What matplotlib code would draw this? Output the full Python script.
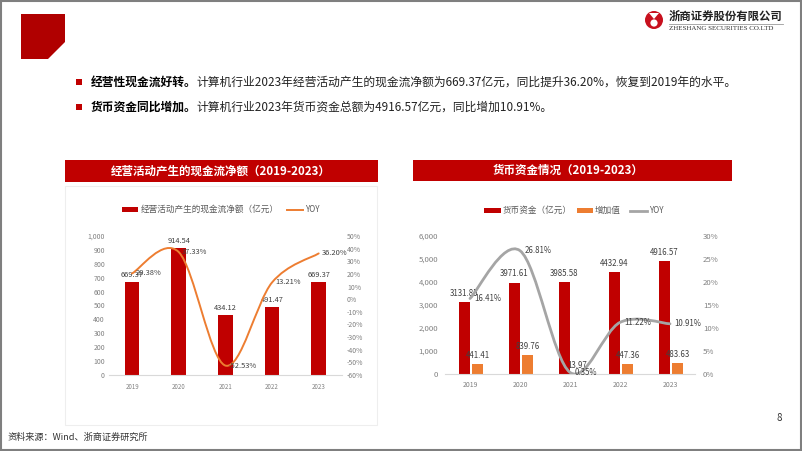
import matplotlib
matplotlib.use('Agg')
import matplotlib.pyplot as plt
import numpy as np
from matplotlib.path import Path
from matplotlib.patches import PathPatch, Rectangle, Polygon, Circle
from matplotlib.lines import Line2D
from matplotlib.ticker import FuncFormatter

plt.rcParams['font.family'] = ['Noto Sans CJK SC', 'DejaVu Sans']

# data
years = ['2019', '2020', '2021', '2022', '2023']
cash_flow = [669.37, 914.54, 434.12, 491.47, 669.37]          # 亿元
cash_flow_yoy = [20.38, 37.33, -52.53, 13.21, 36.20]          # %
funds = [3131.85, 3971.61, 3985.58, 4432.94, 4916.57]          # 亿元
funds_increase = [441.41, 839.76, 13.97, 447.36, 483.63]       # 亿元
funds_yoy = [16.41, 26.81, 0.35, 11.22, 10.91]                 # %

W, H = 802, 451
RED = '#c00000'
ORANGE = '#ed7d31'
GRAY = '#a5a5a5'
TICK = '#808080'
LABEL = '#404040'

fig = plt.figure(figsize=(W / 100, H / 100), dpi=100)

# background layer in pixel coordinates (origin top-left)
bg = fig.add_axes([0, 0, 1, 1])
bg.set_xlim(0, W)
bg.set_ylim(H, 0)
bg.axis('off')


def axes_px(x0, y0, x1, y1):
    return fig.add_axes([x0 / W, 1 - y1 / H, (x1 - x0) / W, (y1 - y0) / H])


def smooth_path(xs, ys):
    # Excel-like smoothed line: Catmull-Rom segments as cubic Beziers
    pts = np.column_stack([xs, ys]).astype(float)
    n = len(pts)
    verts = [pts[0]]
    codes = [Path.MOVETO]
    for i in range(n - 1):
        p0 = pts[max(i - 1, 0)]
        p1 = pts[i]
        p2 = pts[i + 1]
        p3 = pts[min(i + 2, n - 1)]
        verts += [p1 + (p2 - p0) / 6, p2 - (p3 - p1) / 6, p2]
        codes += [Path.CURVE4] * 3
    return Path(verts, codes)


# page frame and header decorations
bg.add_patch(Rectangle((1, 1), W - 2.5, H - 2.5, fill=False, edgecolor='#7f7f7f', lw=1.5))
bg.add_patch(Polygon([(21, 14), (65, 14), (65, 42), (48, 59), (21, 59)], closed=True,
                     facecolor='#b00000', edgecolor='none'))

# logo
bg.add_patch(Circle((654, 20), 9, facecolor='#c8101e', edgecolor='none'))
bg.add_patch(Circle((654, 23), 3.6, facecolor='white', edgecolor='none'))
bg.add_patch(Polygon([(649, 13), (659, 13), (654, 19)], closed=True, facecolor='white', edgecolor='none'))
bg.text(669, 16, '浙商证券股份有限公司', fontsize=8.2, fontweight='bold', color='#222222',
        ha='left', va='center')
bg.plot([669, 783], [24, 24], color='#9a9a9a', lw=0.6)
bg.text(669, 29, 'ZHESHANG SECURITIES CO.LTD', fontsize=5.0, family='Liberation Serif',
        color='#333333', ha='left', va='center')

# bullet lines
renderer = fig.canvas.get_renderer()
bullets = [
    (82, '经营性现金流好转。',
     '计算机行业2023年经营活动产生的现金流净额为669.37亿元，同比提升36.20%，恢复到2019年的水平。'),
    (107, '货币资金同比增加。',
     '计算机行业2023年货币资金总额为4916.57亿元，同比增加10.91%。'),
]
for yb, head, body in bullets:
    bg.add_patch(Rectangle((76, yb - 3), 5.5, 5.5, facecolor=RED, edgecolor='none'))
    t = bg.text(91, yb, head, fontsize=8.5, fontweight='bold', color='#000000', ha='left', va='center')
    wpx = t.get_window_extent(renderer).width
    bg.text(91 + wpx, yb, body, fontsize=8.5, color='#222222', ha='left', va='center')

# chart panels and title banners
bg.add_patch(Rectangle((65, 186), 312, 239, facecolor='white', edgecolor='#eeeeee', lw=0.8))
bg.add_patch(Rectangle((65, 160), 313, 22, facecolor=RED, edgecolor='none'))
bg.text(221, 171, '经营活动产生的现金流净额（2019-2023）', fontsize=8.3, fontweight='bold',
        color='white', ha='center', va='center')
bg.add_patch(Rectangle((413, 160), 319, 21, facecolor=RED, edgecolor='none'))
bg.text(568, 170.5, '货币资金情况（2019-2023）', fontsize=8.3, fontweight='bold',
        color='white', ha='center', va='center')

# legends
bg.add_patch(Rectangle((122, 207), 16, 5, facecolor=RED, edgecolor='none'))
bg.text(141, 209.5, '经营活动产生的现金流净额（亿元）', fontsize=6.2, color='#595959', ha='left', va='center')
bg.add_line(Line2D([287, 303], [209.5, 209.5], color=ORANGE, lw=1.4))
bg.text(305, 209.5, 'YOY', fontsize=5.8, color='#595959', ha='left', va='center')

bg.add_patch(Rectangle((484, 208), 17, 5, facecolor=RED, edgecolor='none'))
bg.text(503, 210.5, '货币资金（亿元）', fontsize=6.2, color='#595959', ha='left', va='center')
bg.add_patch(Rectangle((577, 208), 16, 5, facecolor=ORANGE, edgecolor='none'))
bg.text(595, 210.5, '增加值', fontsize=6.2, color='#595959', ha='left', va='center')
bg.add_line(Line2D([630, 647], [210.5, 210.5], color=GRAY, lw=2.0))
bg.text(649, 210.5, 'YOY', fontsize=5.8, color='#595959', ha='left', va='center')

# footer
bg.text(8, 437, '资料来源：Wind、浙商证券研究所', fontsize=6.6, color='#333333', ha='left', va='center')
bg.text(779, 418, '8', fontsize=7, color='#333333', ha='center', va='center')

x = np.arange(len(years))


def style_axes(ax, size, lpad, xpad):
    ax.set_facecolor('none')
    for s in ['top', 'right', 'left']:
        ax.spines[s].set_visible(False)
    ax.spines['bottom'].set_color('#d9d9d9')
    ax.spines['bottom'].set_linewidth(0.8)
    ax.tick_params(axis='y', length=0, labelsize=size, colors=TICK, pad=lpad)
    ax.tick_params(axis='x', length=0, labelsize=size - 0.6, colors=TICK, pad=xpad)
    ax.set_xlim(-0.5, 4.5)
    ax.set_xticks(x, years)


def style_right(axr, size, pad):
    for s in ['top', 'right', 'left', 'bottom']:
        axr.spines[s].set_visible(False)
    axr.tick_params(axis='y', length=0, labelsize=size, colors=TICK, pad=pad)
    axr.yaxis.set_major_formatter(FuncFormatter(lambda v, p: f'{int(round(v))}%'))


# left chart: operating cash flow
ax1 = axes_px(108.7, 236, 342, 375)
ax1.bar(x, cash_flow, width=0.32, color=RED)
ax1.set_ylim(0, 1000)
ax1.set_yticks(range(0, 1001, 100))
ax1.yaxis.set_major_formatter(FuncFormatter(lambda v, p: f'{int(v):,}'))
style_axes(ax1, 5.0, 2.7, 5.5)
for i, v in enumerate(cash_flow):
    ax1.annotate(f'{v:.2f}', (i, v), xytext=(0, 2), textcoords='offset points',
                 ha='center', va='bottom', fontsize=5.4, color=LABEL)

ax1r = ax1.twinx()
ax1r.set_ylim(-60, 50)
ax1r.set_yticks(range(-60, 51, 10))
style_right(ax1r, 5.0, 3.6)
ax1r.add_patch(PathPatch(smooth_path(x, cash_flow_yoy), fill=False, edgecolor=ORANGE,
                         lw=1.4, capstyle='round'))
for i, v in enumerate(cash_flow_yoy):
    ax1r.annotate(f'{v:.2f}%', (i, v), xytext=(2.5, 0), textcoords='offset points',
                  ha='left', va='center', fontsize=5.4, color=LABEL)

# right chart: monetary funds
ax2 = axes_px(445, 236, 695, 374)
ax2.bar(x - 0.12, funds, width=0.22, color=RED)
ax2.bar(x + 0.15, funds_increase, width=0.22, color=ORANGE)
ax2.set_ylim(0, 6000)
ax2.set_yticks(range(0, 6001, 1000))
ax2.yaxis.set_major_formatter(FuncFormatter(lambda v, p: f'{int(v):,}'))
style_axes(ax2, 5.6, 5.0, 5.0)
for i, v in enumerate(funds):
    ax2.annotate(f'{v:.2f}', (i - 0.12, v), xytext=(0, 3), textcoords='offset points',
                 ha='center', va='bottom', fontsize=5.7, color=LABEL)
for i, v in enumerate(funds_increase):
    ax2.annotate(f'{v:.2f}', (i + 0.15, v), xytext=(0, 3), textcoords='offset points',
                 ha='center', va='bottom', fontsize=5.7, color=LABEL)

ax2r = ax2.twinx()
ax2r.set_ylim(0, 30)
ax2r.set_yticks(range(0, 31, 5))
style_right(ax2r, 5.6, 5.8)
ax2r.add_patch(PathPatch(smooth_path(x, funds_yoy), fill=False, edgecolor=GRAY,
                         lw=2.0, capstyle='round'))
for i, v in enumerate(funds_yoy):
    ax2r.annotate(f'{v:.2f}%', (i, v), xytext=(3, 0), textcoords='offset points',
                  ha='left', va='center', fontsize=5.7, color=LABEL)

fig.savefig('out.png', dpi=100)
